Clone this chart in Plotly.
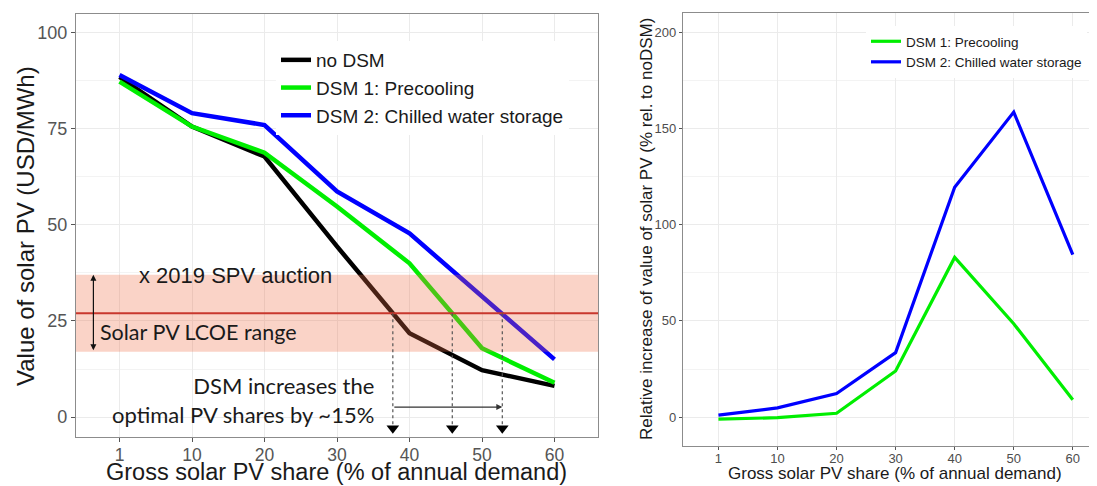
import plotly.graph_objects as go

# ---------------- data ----------------
shares = ["1", "10", "20", "30", "40", "50", "60"]          # gross solar PV share (% of annual demand)
value_no_dsm = [88.5, 75.6, 67.8, 44.4, 21.8, 12.2, 8.1]    # USD/MWh
value_dsm1 = [87.3, 75.6, 68.8, 54.8, 40.0, 17.9, 8.9]
value_dsm2 = [89.0, 79.1, 76.0, 58.7, 47.8, 31.3, 15.0]
rel_dsm1 = [-1.0, -0.3, 2.0, 24.0, 83.0, 48.5, 9.0]         # % rel. to noDSM
rel_dsm2 = [1.0, 4.8, 12.3, 33.5, 119.5, 158.5, 84.5]
lcoe_range = [17, 37]
auction_2019 = 27
crossing_shares = [37.7, 45.9, 52.8]
y_ticks_left = [0, 25, 50, 75, 100]
y_ticks_right = [0, 50, 100, 150, 200]

pos = list(range(len(shares)))
cross_pos = [s / 10 for s in crossing_shares]

# page has an 8px body margin: build the figure on a 1089x478 paper
W, H, OFF = 1089, 478, 8


def px(x):
    return (x - OFF) / W


def py(y):
    return 1 - (y - OFF) / H


BLACK = "#000000"
GREEN = "#00EE00"
BLUE = "#0000FF"
ARIAL = "Liberation Sans, Arial, sans-serif"
CALIBRI = "Lato, sans-serif"
GRID = "#EBEBEB"
MINOR = "#F3F3F3"
BORDER = "#8C8C8C"
TEXT = "#1a1a1a"

fig = go.Figure()

# left panel
for name, vals, col in [("no DSM", value_no_dsm, BLACK),
                        ("DSM 1: Precooling", value_dsm1, GREEN),
                        ("DSM 2: Chilled water storage", value_dsm2, BLUE)]:
    fig.add_trace(go.Scatter(x=pos, y=vals, mode="lines", name=name,
                             line=dict(color=col, width=4.5),
                             xaxis="x", yaxis="y", legend="legend"))

# arrow tips under crossings
fig.add_trace(go.Scatter(x=cross_pos, y=[-2.9] * len(cross_pos), mode="markers",
                         marker=dict(symbol="triangle-down", size=11, color="black"),
                         showlegend=False, hoverinfo="skip", xaxis="x", yaxis="y"))

# right panel
for name, vals, col in [("DSM 1: Precooling", rel_dsm1, GREEN),
                        ("DSM 2: Chilled water storage", rel_dsm2, BLUE)]:
    fig.add_trace(go.Scatter(x=pos, y=vals, mode="lines", name=name,
                             line=dict(color=col, width=3.2),
                             xaxis="x2", yaxis="y2", legend="legend2"))

shapes = [
    dict(type="rect", xref="x domain", yref="y", x0=0, x1=1,
         y0=lcoe_range[0], y1=lcoe_range[1], fillcolor="rgba(240,110,70,0.30)",
         line=dict(width=0), layer="above"),
    dict(type="line", xref="x domain", yref="y", x0=0, x1=1,
         y0=auction_2019, y1=auction_2019, line=dict(color="#C8372D", width=2), layer="above"),
]
for cp in cross_pos:
    shapes.append(dict(type="line", xref="x", yref="y", x0=cp, x1=cp, y0=auction_2019, y1=-2.0,
                       line=dict(color="#555555", width=1.2, dash="dot"), layer="above"))

annotations = [
    dict(x=0.235, y=36.8, xref="x", yref="y", text="x 2019 SPV auction", showarrow=False,
         xanchor="left", yanchor="middle", font=dict(family=ARIAL, size=22, color=TEXT)),
    dict(x=-0.29, y=22.1, xref="x", yref="y", text="Solar PV LCOE range", showarrow=False,
         xanchor="left", yanchor="middle", font=dict(family=CALIBRI, size=21.5, color=TEXT)),
    dict(x=3.54, y=4.4, xref="x", yref="y", text="DSM increases the<br>optimal PV shares by ~15%",
         showarrow=False, xanchor="right", yanchor="middle", align="right",
         font=dict(family=CALIBRI, size=22, color=TEXT)),
    dict(x=cross_pos[-1], y=2.6, ax=cross_pos[0], ay=2.6, xref="x", yref="y", axref="x", ayref="y",
         text="", showarrow=True, arrowhead=2, arrowsize=1, arrowwidth=1.2, arrowcolor="#333333"),
    dict(x=-0.36, y=lcoe_range[1], ax=-0.36, ay=lcoe_range[0], xref="x", yref="y", axref="x", ayref="y",
         text="", showarrow=True, arrowhead=2, arrowside="end+start", arrowsize=1,
         arrowwidth=1.2, arrowcolor="#111111"),
    # axis titles
    dict(x=px(25), y=py(226), xref="paper", yref="paper", text="Value of solar PV (USD/MWh)",
         textangle=-90, showarrow=False, xanchor="center", yanchor="middle",
         font=dict(family=ARIAL, size=24, color=TEXT)),
    dict(x=px(336), y=py(472), xref="paper", yref="paper", text="Gross solar PV share (% of annual demand)",
         showarrow=False, xanchor="center", yanchor="middle",
         font=dict(family=ARIAL, size=23.5, color=TEXT)),
    dict(x=px(647), y=py(229), xref="paper", yref="paper",
         text="Relative increase of value of solar PV (% rel. to noDSM)",
         textangle=-90, showarrow=False, xanchor="center", yanchor="middle",
         font=dict(family=ARIAL, size=17, color=TEXT)),
    dict(x=px(895), y=py(473), xref="paper", yref="paper", text="Gross solar PV share (% of annual demand)",
         showarrow=False, xanchor="center", yanchor="middle",
         font=dict(family=ARIAL, size=17, color=TEXT)),
]

axis_common = dict(showgrid=True, gridcolor=GRID, gridwidth=1.1, zeroline=False,
                   showline=True, mirror=True, linecolor=BORDER, linewidth=1.3,
                   ticks="outside", tickcolor="#555555")

fig.update_layout(
    width=W, height=H, margin=dict(l=0, r=0, t=0, b=0),
    paper_bgcolor="white", plot_bgcolor="white",
    shapes=shapes, annotations=annotations,
    xaxis=dict(domain=[px(76), px(598)], range=[-0.6, 6.6], tickvals=pos, ticktext=shares, ticklen=4,
               tickfont=dict(family=ARIAL, size=17.5, color="#555555"), ticklabelstandoff=-2,
               anchor="y", **axis_common),
    yaxis=dict(domain=[py(437), py(14)], range=[-5.2, 104.9], tickvals=y_ticks_left, ticklen=4,
               tickfont=dict(family=ARIAL, size=18, color="#555555"),
               minor=dict(dtick=12.5, tick0=0, showgrid=True, gridcolor=MINOR, gridwidth=0.7, ticks=""),
               anchor="x", **axis_common),
    xaxis2=dict(domain=[px(683), 1.0], range=[-0.6, 6.41], tickvals=pos, ticktext=shares, ticklen=3,
                tickfont=dict(family=ARIAL, size=13, color="#4D4D4D"), ticklabelstandoff=-3,
                anchor="y2", **axis_common),
    yaxis2=dict(domain=[py(446), py(13)], range=[-15, 210], tickvals=y_ticks_right, ticklen=3,
                tickfont=dict(family=ARIAL, size=13, color="#4D4D4D"),
                minor=dict(dtick=25, tick0=0, showgrid=True, gridcolor=MINOR, gridwidth=0.7, ticks=""),
                anchor="x2", **axis_common),
    legend=dict(x=px(276), y=py(41), xanchor="left", yanchor="top", bgcolor="white",
                font=dict(family=ARIAL, size=19, color=TEXT), itemwidth=30, tracegroupgap=0),
    legend2=dict(x=px(866), y=py(26), xanchor="left", yanchor="top", bgcolor="white",
                 font=dict(family=ARIAL, size=13.5, color=TEXT), itemwidth=30, tracegroupgap=0),
)

fig.write_html("out.html")
